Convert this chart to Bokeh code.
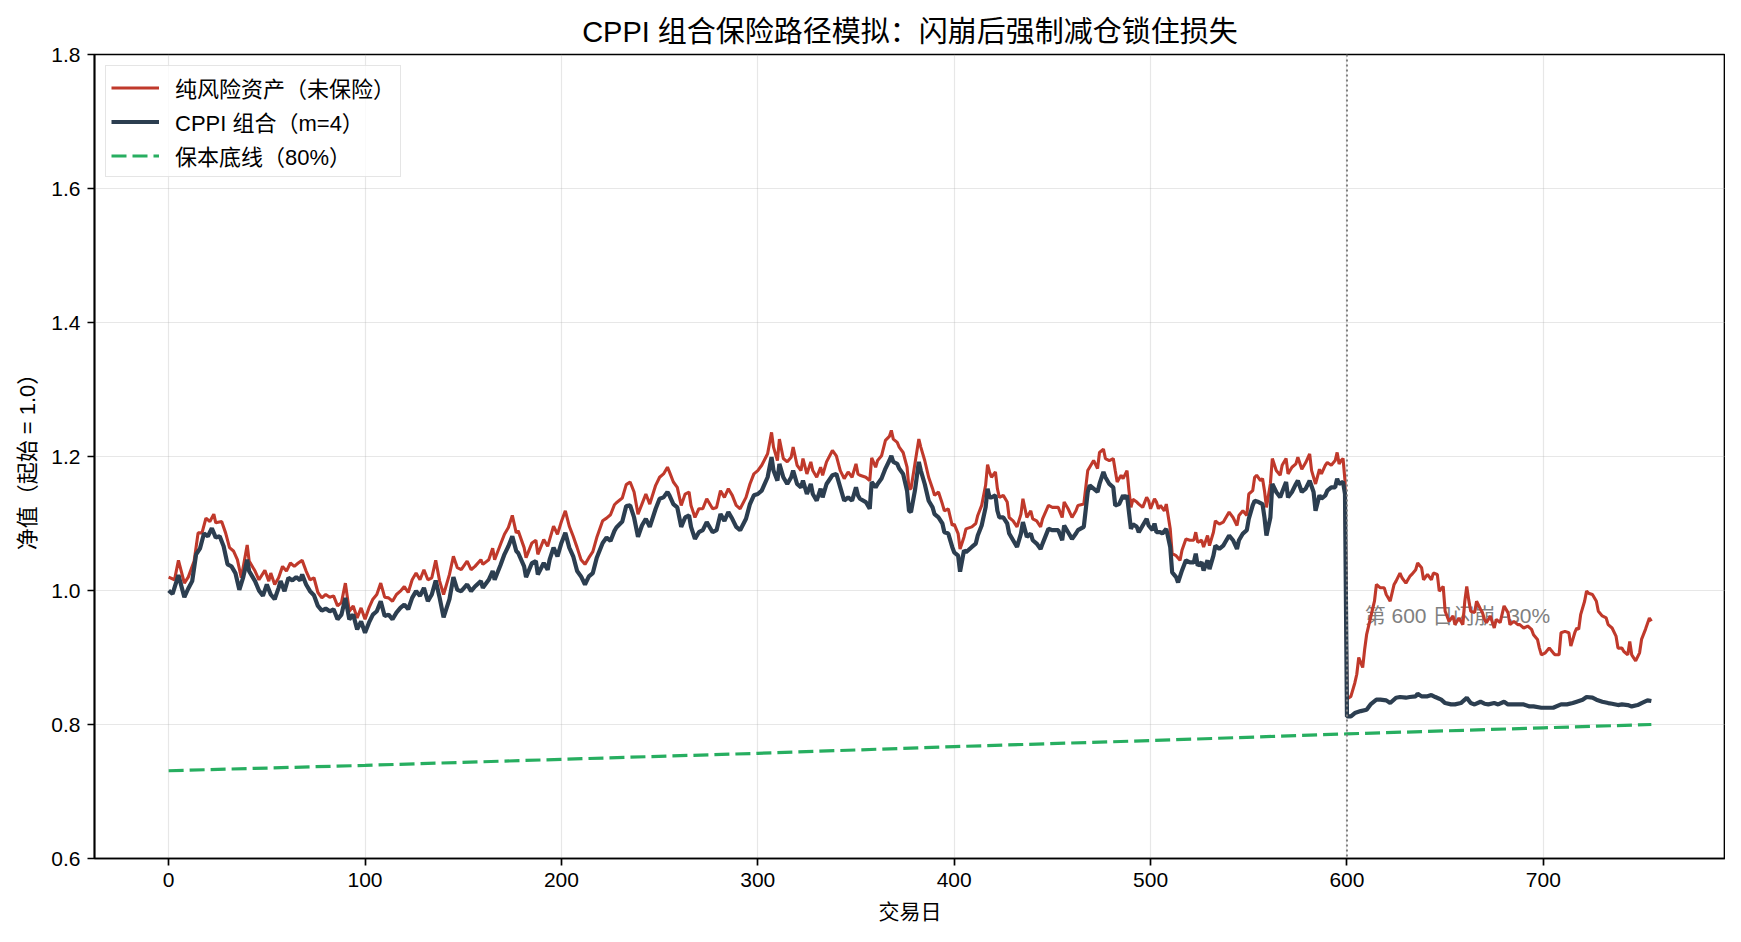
from bokeh.plotting import figure
from bokeh.models import Span, FixedTicker, PrintfTickFormatter
from bokeh.core.properties import value
from bokeh.embed import file_html
from bokeh.resources import INLINE

FONT = "Liberation Sans, Noto Sans CJK SC"

# values (trading day -> net value)
risky_day = [
    0, 3, 5, 8, 10, 13, 15, 17, 19, 21, 23, 24, 27, 29, 31, 33, 35, 37, 40, 41,
    44, 46, 49, 51, 52, 54, 56, 58, 60, 62, 64, 66, 68, 70, 72, 74, 76, 78, 80, 82,
    84, 86, 88, 90, 92, 94, 96, 98, 100, 102, 104, 106, 108, 110, 112, 114, 116, 118, 120, 122,
    124, 126, 128, 130, 132, 134, 136, 138, 140, 143, 145, 147, 149, 152, 154, 156, 159, 160, 163, 165,
    166, 169, 171, 173, 175, 177, 178, 181, 182, 185, 187, 188, 191, 193, 194, 196, 198, 200, 202, 204,
    206, 208, 210, 212, 214, 216, 218, 221, 223, 225, 227, 228, 231, 233,
    235, 237, 239, 241, 243, 245, 248, 250, 252, 254, 255, 257, 259, 261, 263, 265, 266, 268, 270, 272,
    274, 277, 279, 281, 283, 285, 287, 289, 291, 294, 296, 298, 300, 302, 305, 307, 308, 310, 311, 313,
    315, 317, 318, 320, 322, 323, 325, 327, 328, 330, 332, 333, 335, 338, 340, 342, 344, 346, 348, 350, 351,
    352, 355, 357, 358, 360, 361, 363, 365, 367, 368, 369, 371, 372, 374, 376, 377, 378, 380, 382, 383,
    385, 387, 389, 390, 392, 394, 395, 397, 399, 400, 402, 403, 405, 406, 409, 411, 412, 414, 416, 417,
    418, 419, 421, 422, 423, 425, 427, 428, 430, 432, 434, 435, 437, 439, 440, 442, 444, 445, 448, 450,
    451, 453, 455, 456, 458, 460, 462, 463, 466, 468, 469, 471, 473,
    474, 476, 477, 479, 481, 482, 483, 485, 486, 488, 489, 490, 491, 493, 494, 496, 498, 499, 500, 502,
    503, 504, 505, 507, 508, 510, 511, 513, 515, 516, 518, 520, 522, 523, 524, 526, 527, 529, 530, 532,
    533, 535, 537, 538, 540, 542, 544, 545, 547, 549, 550, 552, 553, 554, 556, 557, 558, 559, 561, 562,
    564, 566, 567, 569, 570, 572, 574, 575, 577, 579, 581, 582, 584, 586, 587, 589, 590, 592, 594, 595,
    596, 597, 598, 599, 600,
    602, 604, 605, 606, 608, 609, 610, 612, 614, 615, 617, 619, 620, 622, 624, 625, 627, 628, 630, 632,
    633, 635, 636, 638, 639, 641, 643, 644, 646, 647, 649, 650, 652, 654, 655, 657, 659, 660, 661, 662,
    663, 665, 666, 668, 669, 670, 671, 673, 675, 676, 678, 680, 682, 683, 685, 687, 688, 690, 692, 694,
    695, 697, 698, 699, 701, 703, 705, 706, 708, 709, 711, 713, 714, 716, 717, 718, 719, 721, 722, 723,
    725, 727, 728, 730, 732, 733, 735, 737, 738, 740, 741, 743, 744, 745, 747, 749, 750, 752, 754, 755,
]
risky_nav = [
    1.020, 1.016, 1.045, 1.011, 1.020, 1.044, 1.086, 1.086, 1.108, 1.103, 1.114, 1.101, 1.103, 1.086, 1.064, 1.059, 1.046, 1.019, 1.068, 1.044,
    1.029, 1.016, 1.030, 1.014, 1.026, 1.009, 1.019, 1.036, 1.029, 1.041, 1.036, 1.041, 1.045, 1.029, 1.016, 1.019, 0.997, 0.989, 0.994, 0.990,
    0.992, 0.977, 0.982, 1.011, 0.969, 0.977, 0.959, 0.974, 0.957, 0.974, 0.987, 0.994, 1.011, 0.990, 0.989, 0.984, 0.994, 0.999, 1.006, 0.997,
    1.016, 1.026, 1.016, 1.031, 1.016, 1.019, 1.045, 1.014, 0.994, 1.024, 1.051, 1.034, 1.031, 1.044, 1.031, 1.036, 1.046, 1.039, 1.046, 1.063,
    1.046, 1.069, 1.084, 1.094, 1.112, 1.086, 1.089, 1.064, 1.049, 1.071, 1.075, 1.054, 1.076, 1.066, 1.076, 1.096, 1.084, 1.103, 1.119, 1.096,
    1.081, 1.064, 1.046, 1.039, 1.049, 1.058, 1.079, 1.104, 1.108, 1.113, 1.128, 1.131, 1.138, 1.158,
    1.162, 1.147, 1.114, 1.129, 1.144, 1.129, 1.157, 1.169, 1.174, 1.184, 1.177, 1.162, 1.154, 1.127, 1.144, 1.147, 1.127, 1.109, 1.122, 1.122,
    1.137, 1.122, 1.124, 1.149, 1.139, 1.152, 1.142, 1.127, 1.122, 1.139, 1.159, 1.174, 1.179, 1.187, 1.204, 1.236, 1.214, 1.194, 1.226, 1.197,
    1.192, 1.199, 1.214, 1.187, 1.179, 1.197, 1.174, 1.192, 1.179, 1.169, 1.184, 1.172, 1.192, 1.209, 1.201, 1.179, 1.167, 1.177, 1.169, 1.189, 1.174,
    1.172, 1.169, 1.164, 1.198, 1.184, 1.194, 1.201, 1.224, 1.230, 1.239, 1.226, 1.221, 1.214, 1.206, 1.184, 1.152, 1.152, 1.189, 1.226, 1.214,
    1.194, 1.169, 1.152, 1.142, 1.147, 1.129, 1.119, 1.122, 1.097, 1.099, 1.085, 1.062, 1.080, 1.092, 1.095, 1.100, 1.112, 1.127, 1.157, 1.188,
    1.177, 1.169, 1.177, 1.152, 1.139, 1.142, 1.132, 1.109, 1.104, 1.095, 1.114, 1.137, 1.109, 1.119, 1.107, 1.104, 1.095, 1.107, 1.127, 1.124,
    1.124, 1.124, 1.109, 1.132, 1.122, 1.109, 1.119, 1.127, 1.129, 1.179, 1.184, 1.194, 1.182,
    1.206, 1.211, 1.197, 1.194, 1.197, 1.179, 1.162, 1.172, 1.167, 1.179, 1.149, 1.124, 1.136, 1.132, 1.129, 1.124, 1.139, 1.134, 1.122, 1.137,
    1.132, 1.122, 1.127, 1.119, 1.129, 1.092, 1.055, 1.052, 1.045, 1.060, 1.077, 1.075, 1.075, 1.087, 1.072, 1.075, 1.065, 1.082, 1.067, 1.087,
    1.104, 1.099, 1.102, 1.107, 1.117, 1.109, 1.097, 1.112, 1.119, 1.112, 1.144, 1.149, 1.169, 1.172, 1.164, 1.167, 1.149, 1.124, 1.159, 1.197,
    1.179, 1.172, 1.187, 1.197, 1.174, 1.184, 1.189, 1.199, 1.181, 1.191, 1.204, 1.179, 1.159, 1.181, 1.174, 1.187, 1.191, 1.187, 1.194, 1.206,
    1.189, 1.194, 1.197, 1.164, 0.838,
    0.842, 0.862, 0.875, 0.900, 0.885, 0.912, 0.934, 0.959, 0.984, 1.009, 1.004, 1.004, 0.994, 0.984, 1.009, 1.014, 1.026, 1.019, 1.011, 1.021,
    1.024, 1.031, 1.041, 1.034, 1.016, 1.024, 1.016, 1.026, 1.024, 0.999, 1.006, 0.969, 0.954, 0.962, 0.949, 0.959, 0.949, 0.984, 1.006, 0.986,
    0.969, 0.967, 0.984, 0.972, 0.967, 0.957, 0.952, 0.962, 0.944, 0.957, 0.952, 0.977, 0.967, 0.949, 0.954, 0.949, 0.949, 0.944, 0.947, 0.942,
    0.934, 0.927, 0.914, 0.904, 0.907, 0.914, 0.907, 0.904, 0.904, 0.937, 0.939, 0.937, 0.917, 0.937, 0.944, 0.942, 0.964, 0.984, 0.999, 0.996,
    0.994, 0.984, 0.969, 0.962, 0.959, 0.949, 0.944, 0.932, 0.914, 0.914, 0.909, 0.904, 0.924, 0.904, 0.895, 0.907, 0.927, 0.942, 0.959, 0.954,
]

cppi_day = [
    0, 2, 5, 8, 10, 12, 14, 16, 18, 20, 22, 24, 26, 28, 30, 32, 34, 36, 38, 40,
    41, 44, 46, 48, 50, 52, 54, 56, 57, 59, 61, 63, 65, 67, 68, 70, 72, 74, 76, 78,
    80, 82, 84, 86, 88, 90, 92, 94, 96, 98, 100, 102, 104, 106, 108, 110, 112, 114, 116, 118,
    120, 122, 124, 126, 128, 130, 132, 134, 136, 138, 140, 143, 145, 147, 149, 152, 154, 156, 159, 160,
    163, 165, 166, 169, 171, 173, 175, 177, 178, 181, 182, 185, 187, 188, 191, 193, 194, 196, 198, 200,
    202, 204, 206, 208, 210, 212, 214, 216, 218, 221, 223, 225, 227, 228, 231, 233,
    235, 237, 239, 241, 243, 245, 248, 250, 252, 254, 255, 257, 259, 261, 263, 265, 266, 268, 270, 272,
    274, 277, 279, 281, 283, 285, 287, 289, 291, 294, 296, 298, 300, 302, 305, 307, 308, 310, 311, 313,
    315, 317, 318, 320, 322, 323, 325, 327, 328, 330, 332, 333, 335, 338, 340, 342, 344, 346, 348, 350, 351,
    352, 355, 357, 358, 360, 361, 363, 365, 367, 368, 369, 371, 372, 374, 376, 377, 378, 380, 382, 383,
    385, 387, 389, 390, 392, 394, 395, 397, 399, 400, 402, 403, 405, 406, 409, 411, 412, 414, 416, 417,
    418, 419, 421, 422, 423, 425, 427, 428, 430, 432, 434, 435, 437, 439, 440, 442, 444, 445, 448, 450,
    451, 453, 455, 456, 458, 460, 462, 463, 466, 468, 469, 471, 473,
    474, 476, 477, 479, 481, 482, 484, 486, 487, 488, 490, 491, 493, 494, 496, 498, 499, 501, 502, 503,
    505, 506, 508, 510, 511, 513, 514, 516, 518, 520, 522, 523, 524, 526, 527, 529, 530, 532, 533, 535,
    537, 538, 540, 542, 544, 545, 547, 549, 550, 552, 553, 555, 557, 558, 559, 561, 562, 564, 566, 567,
    569, 570, 572, 574, 575, 577, 579, 581, 583, 584, 586, 587, 589, 590, 592, 594, 595, 596, 598, 599, 600,
    602, 604, 607, 610, 612, 615, 617, 620, 622, 625, 627, 630, 632, 635, 636, 638, 641, 643, 645, 648,
    650, 653, 655, 658, 660, 661, 663, 665, 668, 670, 672, 675, 677, 680, 682, 685, 688, 690, 693, 695,
    699, 702, 705, 709, 712, 715, 717, 720, 722, 725, 727, 730, 733, 735, 738, 740, 743, 745, 748, 750,
    753, 755,
]
cppi_nav = [
    1.000, 0.995, 1.023, 0.990, 1.003, 1.014, 1.054, 1.063, 1.085, 1.081, 1.093, 1.079, 1.081, 1.066, 1.039, 1.036, 1.026, 1.001, 1.020, 1.046,
    1.029, 1.014, 1.000, 0.992, 1.009, 0.994, 0.987, 1.004, 1.014, 0.999, 1.019, 1.015, 1.020, 1.015, 1.024, 1.009, 0.999, 0.993, 0.977, 0.970,
    0.973, 0.969, 0.972, 0.957, 0.964, 0.989, 0.957, 0.964, 0.942, 0.954, 0.937, 0.952, 0.964, 0.969, 0.984, 0.962, 0.964, 0.957, 0.967, 0.974,
    0.979, 0.972, 0.989, 0.999, 0.992, 1.004, 0.984, 0.994, 1.015, 0.989, 0.960, 0.987, 1.020, 1.001, 0.999, 1.009, 0.999, 1.006, 1.014, 1.004,
    1.016, 1.029, 1.016, 1.038, 1.054, 1.066, 1.081, 1.059, 1.056, 1.036, 1.020, 1.041, 1.044, 1.024, 1.041, 1.031, 1.046, 1.064, 1.051, 1.071,
    1.086, 1.064, 1.051, 1.029, 1.021, 1.009, 1.021, 1.026, 1.049, 1.071, 1.079, 1.074, 1.089, 1.094, 1.103, 1.126,
    1.127, 1.109, 1.080, 1.097, 1.107, 1.095, 1.122, 1.137, 1.139, 1.147, 1.142, 1.129, 1.124, 1.095, 1.109, 1.112, 1.095, 1.077, 1.087, 1.090,
    1.102, 1.087, 1.090, 1.114, 1.104, 1.117, 1.107, 1.095, 1.090, 1.107, 1.129, 1.142, 1.144, 1.149, 1.169, 1.199, 1.179, 1.164, 1.189, 1.169,
    1.159, 1.169, 1.179, 1.159, 1.154, 1.164, 1.144, 1.159, 1.144, 1.134, 1.152, 1.139, 1.159, 1.172, 1.174, 1.154, 1.134, 1.139, 1.134, 1.154, 1.142,
    1.137, 1.132, 1.122, 1.162, 1.154, 1.159, 1.167, 1.182, 1.194, 1.201, 1.192, 1.189, 1.182, 1.174, 1.149, 1.119, 1.117, 1.149, 1.192, 1.179,
    1.159, 1.134, 1.124, 1.114, 1.109, 1.100, 1.087, 1.085, 1.065, 1.057, 1.052, 1.028, 1.060, 1.057, 1.065, 1.070, 1.082, 1.097, 1.124, 1.152,
    1.139, 1.139, 1.142, 1.119, 1.109, 1.109, 1.100, 1.085, 1.075, 1.065, 1.085, 1.102, 1.080, 1.085, 1.075, 1.070, 1.062, 1.070, 1.092, 1.090,
    1.090, 1.090, 1.075, 1.097, 1.087, 1.077, 1.085, 1.090, 1.095, 1.147, 1.157, 1.152, 1.147,
    1.159, 1.177, 1.169, 1.159, 1.154, 1.127, 1.129, 1.142, 1.137, 1.142, 1.092, 1.099, 1.095, 1.087, 1.097, 1.107, 1.097, 1.090, 1.100, 1.087,
    1.087, 1.085, 1.092, 1.065, 1.027, 1.020, 1.012, 1.030, 1.045, 1.042, 1.042, 1.055, 1.037, 1.042, 1.030, 1.045, 1.032, 1.052, 1.067, 1.062,
    1.067, 1.072, 1.082, 1.075, 1.062, 1.075, 1.085, 1.090, 1.107, 1.127, 1.134, 1.132, 1.129, 1.109, 1.082, 1.109, 1.159, 1.147, 1.139, 1.147,
    1.162, 1.139, 1.147, 1.159, 1.164, 1.147, 1.152, 1.164, 1.147, 1.119, 1.142, 1.137, 1.142, 1.149, 1.154, 1.154, 1.167, 1.159, 1.162, 1.144, 0.812,
    0.812, 0.817, 0.820, 0.822, 0.830, 0.837, 0.837, 0.836, 0.832, 0.840, 0.841, 0.840, 0.841, 0.842, 0.846, 0.842, 0.842, 0.844, 0.841, 0.837,
    0.832, 0.830, 0.830, 0.832, 0.837, 0.840, 0.832, 0.830, 0.834, 0.831, 0.830, 0.832, 0.830, 0.834, 0.830, 0.830, 0.830, 0.830, 0.827, 0.827,
    0.825, 0.825, 0.825, 0.830, 0.830, 0.832, 0.834, 0.837, 0.841, 0.840, 0.837, 0.834, 0.832, 0.831, 0.829, 0.830, 0.829, 0.827, 0.829, 0.832,
    0.836, 0.835,
]

floor_day = [0, 100, 200, 300, 400, 500, 600, 700, 755]
floor_nav = [0.731, 0.739, 0.748, 0.757, 0.767, 0.776, 0.786, 0.795, 0.800]

crash_day = 600
crash_label = "第 600 日闪崩 -30%"

x_ticks = [0, 100, 200, 300, 400, 500, 600, 700]
y_ticks = [0.6, 0.8, 1.0, 1.2, 1.4, 1.6, 1.8]

p = figure(
    title="CPPI 组合保险路径模拟：闪崩后强制减仓锁住损失",
    x_axis_label="交易日",
    y_axis_label="净值（起始 = 1.0）",
    x_range=(-37.75, 792.75),
    y_range=(0.6, 1.8),
    frame_width=1631,
    frame_height=804,
    min_border_left=94,
    min_border_right=0,
    min_border_top=54,
    min_border_bottom=68,
    output_backend="svg",
    toolbar_location=None,
    background_fill_color="white",
    border_fill_color="white",
)

p.text(
    x=[crash_day + 9], y=[0.963], text=[crash_label],
    text_font=value(FONT), text_font_size="21px", text_color="#808080",
    text_baseline="middle", text_align="left",
)

p.line(risky_day, risky_nav, color="#c0392b", line_width=3.1,
       legend_label="纯风险资产（未保险）")
p.line(cppi_day, cppi_nav, color="#2c3e50", line_width=4.2,
       legend_label="CPPI 组合（m=4）")
p.line(floor_day, floor_nav, color="#27ae60", line_width=3.2, line_dash="15 6",
       legend_label="保本底线（80%）")

p.add_layout(Span(location=crash_day, dimension="height", line_color="#808080",
                  line_width=2, line_dash="2 3"))

p.title.text_font = FONT
p.title.text_font_size = "29px"
p.title.text_font_style = "normal"
p.title.align = "center"
p.title.text_color = "black"
p.title.standoff = 14

p.xaxis.ticker = FixedTicker(ticks=x_ticks)
p.yaxis.ticker = FixedTicker(ticks=y_ticks)
p.yaxis.formatter = PrintfTickFormatter(format="%.1f")

for ax in (p.xaxis, p.yaxis):
    ax.axis_label_text_font = FONT
    ax.axis_label_text_font_size = "21px"
    ax.axis_label_text_font_style = "normal"
    ax.axis_label_text_color = "black"
    ax.major_label_text_font = FONT
    ax.major_label_text_font_size = "21px"
    ax.major_label_text_color = "black"
    ax.axis_line_color = "black"
    ax.axis_line_width = 1.7
    ax.major_tick_line_color = "black"
    ax.major_tick_line_width = 1.7
    ax.major_tick_out = 7
    ax.major_tick_in = 0
    ax.minor_tick_line_color = None
    ax.major_label_standoff = 7

p.yaxis.axis_label_text_font_size = "22px"
p.xaxis.axis_label_standoff = 10
p.yaxis.axis_label_standoff = 8

p.outline_line_color = "black"
p.outline_line_width = 1.7

p.grid.grid_line_color = "#b0b0b0"
p.grid.grid_line_alpha = 0.3
p.grid.grid_line_width = 1.2

p.legend.location = (11, 681)
p.legend.margin = 0
p.legend.padding = 5
p.legend.spacing = 2
p.legend.label_height = 27
p.legend.glyph_height = 27
p.legend.glyph_width = 48
p.legend.label_standoff = 16
p.legend.label_text_font = FONT
p.legend.label_text_font_size = "22px"
p.legend.label_text_color = "black"
p.legend.border_line_color = "#cccccc"
p.legend.border_line_width = 1.7
p.legend.background_fill_color = "white"
p.legend.background_fill_alpha = 0.8

open("out.html", "w").write(file_html(p, INLINE))
